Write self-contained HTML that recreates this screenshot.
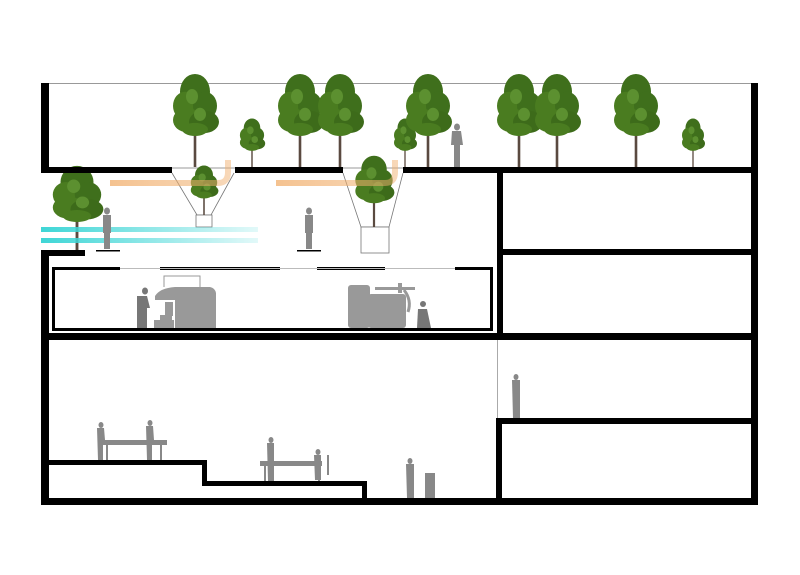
<!DOCTYPE html>
<html><head><meta charset="utf-8"><style>html,body{margin:0;padding:0;background:#fff}svg{display:block}</style></head>
<body>
<svg width="800" height="575" viewBox="0 0 800 575" xmlns="http://www.w3.org/2000/svg">
<defs>
<linearGradient id="cy" x1="0" x2="1"><stop offset="0" stop-color="#3fd6d6"/><stop offset="1" stop-color="#3fd6d6" stop-opacity="0.15"/></linearGradient>
<linearGradient id="or" x1="0" x2="1"><stop offset="0" stop-color="#f0a860" stop-opacity="0.7"/><stop offset="1" stop-color="#f0b070" stop-opacity="0.5"/></linearGradient>
<g id="tree">
<rect x="-1.3" y="55" width="2.6" height="45" fill="#5a4a40"/>
<ellipse cx="0" cy="20" rx="15" ry="19" fill="#3f6f1c"/>
<ellipse cx="-10" cy="35" rx="12" ry="15" fill="#4a7c20"/>
<ellipse cx="10" cy="35" rx="12" ry="15" fill="#3f6f1c"/>
<ellipse cx="-8" cy="50" rx="14" ry="13" fill="#4a7c20"/>
<ellipse cx="9" cy="52" rx="15" ry="12" fill="#3d6b1a"/>
<ellipse cx="0" cy="60" rx="13" ry="7" fill="#4a7c20"/>
<ellipse cx="-3" cy="25" rx="6" ry="8" fill="#5c9030"/>
<ellipse cx="5" cy="44" rx="6" ry="7" fill="#5c9030"/>
</g>
</defs>
<line x1="49" y1="83.5" x2="751" y2="83.5" stroke="#999" stroke-width="1"/>
<use href="#tree" transform="translate(195,73) scale(1,0.94)"/>
<use href="#tree" transform="translate(252,118) scale(0.55,0.49)"/>
<use href="#tree" transform="translate(300,73) scale(1,0.94)"/>
<use href="#tree" transform="translate(340,73) scale(1,0.94)"/>
<use href="#tree" transform="translate(405,118) scale(0.5,0.49)"/>
<use href="#tree" transform="translate(428,73) scale(1,0.94)"/>
<use href="#tree" transform="translate(519,73) scale(1,0.94)"/>
<use href="#tree" transform="translate(557,73) scale(1,0.94)"/>
<use href="#tree" transform="translate(636,73) scale(1,0.94)"/>
<use href="#tree" transform="translate(693,118) scale(0.5,0.49)"/>
<use href="#tree" transform="translate(77,165) scale(1.1,0.85)"/>
<g fill="#888"><ellipse cx="457" cy="127" rx="3" ry="3.5"/><path d="M452 131h9l2 14h-3v22h-6v-22h-3z"/></g>
<g fill="#000">
<rect x="41" y="83" width="8" height="90"/>
<rect x="41" y="167" width="131" height="6"/>
<rect x="235" y="167" width="108" height="6"/>
<rect x="403" y="167" width="355" height="6"/>
<rect x="751" y="83" width="7" height="422"/>
<rect x="497" y="167" width="6" height="170"/>
<rect x="503" y="249" width="248" height="6"/>
<rect x="41" y="250" width="44" height="6"/>
<rect x="41" y="250" width="8" height="255"/>
<rect x="41" y="333" width="717" height="7"/>
<rect x="496" y="418" width="262" height="6"/>
<rect x="496" y="418" width="6" height="87"/>
<rect x="41" y="498" width="717" height="7"/>
<rect x="49" y="460" width="158" height="5"/>
<rect x="202" y="460" width="5" height="26"/>
<rect x="205" y="481" width="162" height="5"/>
<rect x="362" y="481" width="5" height="20"/>
</g>
<line x1="497.5" y1="340" x2="497.5" y2="418" stroke="#aaa"/>
<g fill="#000">
<rect x="52" y="267" width="68" height="3"/>
<rect x="160" y="267" width="120" height="3"/>
<rect x="317" y="267" width="68" height="3"/>
<rect x="455" y="267" width="38" height="3"/>
<rect x="52" y="267" width="3" height="64"/>
<rect x="490" y="267" width="3" height="64"/>
<rect x="52" y="328" width="441" height="3"/>
</g>
<line x1="120" y1="268.5" x2="455" y2="268.5" stroke="#bbb" stroke-width="1"/>
<g fill="none" stroke="#777" stroke-width="0.8">
<path d="M172 173 L197 215 L211 215 L234 173"/>
<rect x="196" y="215" width="16" height="12" fill="#fff"/>
<path d="M343 173 L361 227 L389 227 L403 173"/>
<rect x="361" y="227" width="28" height="26" fill="#fff"/>
<line x1="172" y1="168" x2="235" y2="168"/><line x1="343" y1="168" x2="403" y2="168"/>
</g>
<use href="#tree" transform="translate(204,165) scale(0.6,0.5)"/>
<use href="#tree" transform="translate(374,155) scale(0.85,0.72)"/>
<path d="M110 183 H218 Q228 183 228 172 V160" fill="none" stroke="url(#or)" stroke-width="6"/>
<path d="M276 183 H385 Q395 183 395 172 V160" fill="none" stroke="url(#or)" stroke-width="6"/>
<rect x="41" y="227" width="217" height="5" fill="url(#cy)"/>
<rect x="41" y="238" width="217" height="5" fill="url(#cy)"/>
<g fill="#888">
<ellipse cx="107" cy="211" rx="3" ry="3.5"/><rect x="103" y="215" width="8" height="18"/><rect x="104" y="232" width="6" height="17"/>
<ellipse cx="309" cy="211" rx="3" ry="3.5"/><rect x="305" y="215" width="8" height="18"/><rect x="306" y="232" width="6" height="17"/>
</g>
<rect x="96" y="250" width="24" height="1.5" fill="#000"/>
<rect x="297" y="250" width="24" height="1.5" fill="#000"/>
<g fill="#999">
<path d="M155 296 Q160 288 175 287 H210 Q215 288 216 293 V328 H175 V300 H155z"/>
<rect x="165" y="302" width="8" height="14"/>
<rect x="160" y="315" width="12" height="5"/><rect x="154" y="320" width="20" height="8"/>
<rect x="348" y="285" width="22" height="43" rx="3"/><rect x="368" y="294" width="38" height="34" rx="3"/>
<rect x="375" y="287" width="40" height="3"/><rect x="398" y="283" width="4" height="10"/>
<path d="M404 290 Q412 300 408 312" fill="none" stroke="#999" stroke-width="3"/>
</g>
<path d="M164 287 V276 H200 V290" fill="none" stroke="#999" stroke-width="1"/>
<g fill="#777">
<ellipse cx="145" cy="291" rx="3" ry="3.5"/><path d="M137 296h10l3 12h-3v20h-10z"/>
<ellipse cx="423" cy="304" rx="3" ry="3"/><path d="M418 309h9l4 19h-14z"/>
</g>
<g fill="#888">
<rect x="101" y="440" width="66" height="5"/><rect x="106" y="445" width="2" height="15"/><rect x="160" y="445" width="2" height="15"/>
<ellipse cx="101" cy="425" rx="2.5" ry="3"/><path d="M97 428h7l1 12h-2v20h-5z"/>
<ellipse cx="150" cy="423" rx="2.5" ry="3"/><path d="M146 426h7l1 14h-2v20h-5z"/>
<rect x="260" y="461" width="62" height="5"/><rect x="264" y="466" width="2" height="15"/><rect x="318" y="466" width="2" height="15"/>
<ellipse cx="271" cy="440" rx="2.5" ry="3"/><path d="M267 443h7v38h-6z"/>
<ellipse cx="318" cy="452" rx="2.5" ry="3"/><path d="M314 455h7v25h-6z"/><rect x="327" y="455" width="2" height="20"/>
<ellipse cx="410" cy="461" rx="2.5" ry="3"/><path d="M406 464h8v34h-7z"/>
<rect x="425" y="473" width="10" height="25"/>
<ellipse cx="516" cy="377" rx="2.5" ry="3"/><path d="M512 380h8v38h-7z"/>
</g>
</svg>
</body></html>
